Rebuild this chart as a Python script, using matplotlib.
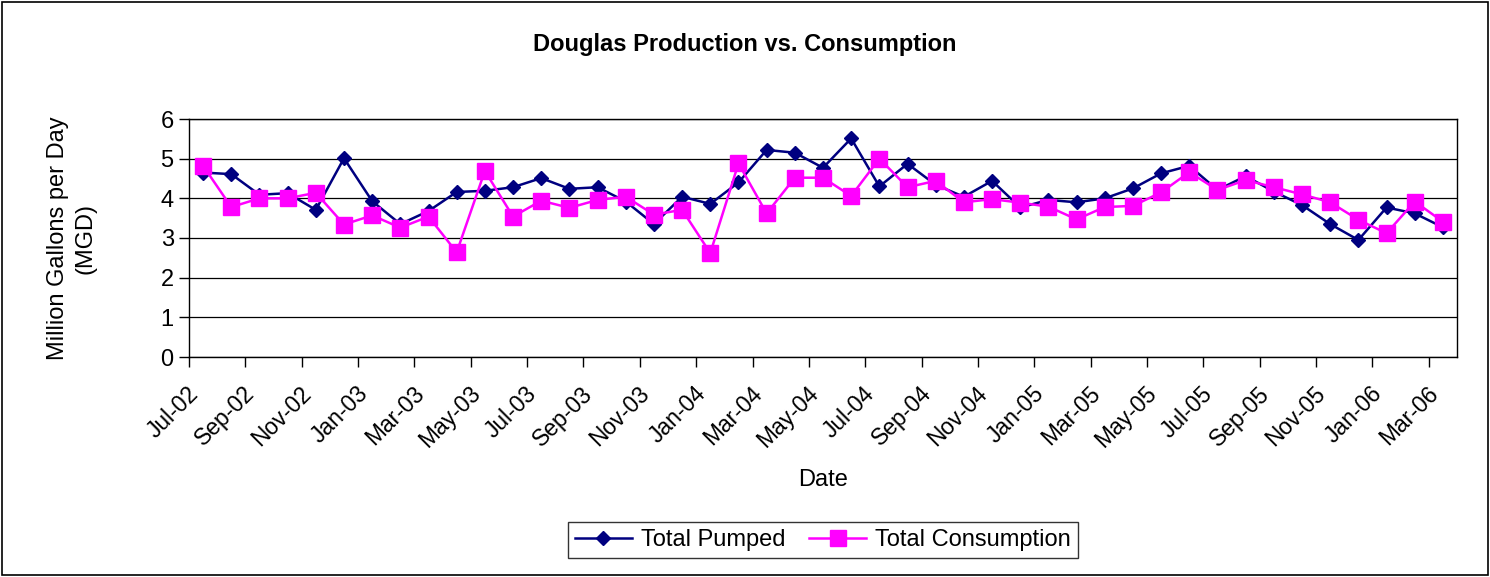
import matplotlib
matplotlib.use("Agg")
import matplotlib.pyplot as plt
from matplotlib.patches import Rectangle

plt.rcParams['font.family'] = ['Liberation Sans', 'DejaVu Sans']

months = ["Jul-02","Aug-02","Sep-02","Oct-02","Nov-02","Dec-02",
          "Jan-03","Feb-03","Mar-03","Apr-03","May-03","Jun-03",
          "Jul-03","Aug-03","Sep-03","Oct-03","Nov-03","Dec-03",
          "Jan-04","Feb-04","Mar-04","Apr-04","May-04","Jun-04",
          "Jul-04","Aug-04","Sep-04","Oct-04","Nov-04","Dec-04",
          "Jan-05","Feb-05","Mar-05","Apr-05","May-05","Jun-05",
          "Jul-05","Aug-05","Sep-05","Oct-05","Nov-05","Dec-05",
          "Jan-06","Feb-06","Mar-06"]

total_pumped = [4.65, 4.61, 4.09, 4.13, 3.71, 5.01, 3.93, 3.35, 3.68, 4.16,
                4.19, 4.28, 4.51, 4.24, 4.28, 3.92, 3.35, 4.04, 3.86, 4.40,
                5.22, 5.15, 4.77, 5.51, 4.30, 4.87, 4.34, 4.04, 4.44, 3.77,
                3.96, 3.90, 4.00, 4.25, 4.63, 4.82, 4.21, 4.56, 4.17, 3.83,
                3.35, 2.95, 3.77, 3.62, 3.27]

total_consumption = [4.82, 3.78, 4.00, 4.00, 4.14, 3.34, 3.57, 3.26, 3.54, 2.64,
                     4.69, 3.54, 3.94, 3.76, 3.96, 4.04, 3.59, 3.71, 2.62, 4.88,
                     3.62, 4.52, 4.52, 4.06, 5.00, 4.28, 4.44, 3.90, 3.98, 3.89,
                     3.79, 3.47, 3.78, 3.81, 4.15, 4.66, 4.21, 4.46, 4.28, 4.10,
                     3.90, 3.46, 3.12, 3.92, 3.41]

y_ticks = [0, 1, 2, 3, 4, 5, 6]

W, H = 1490, 577
fig = plt.figure(figsize=(W / 100, H / 100), dpi=100)
ax = fig.add_axes([189 / W, 1 - 357 / H, (1457 - 189) / W, (357 - 119) / H])

x = list(range(len(months)))
ax.plot(x, total_pumped, color='#000080', lw=1.8, marker='D', ms=7,
        markeredgecolor='#000080', markerfacecolor='#000080', label='Total Pumped', zorder=3)
ax.plot(x, total_consumption, color='#FF00FF', lw=1.8, marker='s', ms=11,
        markeredgecolor='#FF00FF', markerfacecolor='#FF00FF', label='Total Consumption', zorder=4)

ax.set_xlim(-0.5, len(months) - 0.5)
ax.set_ylim(0, 6)
ax.set_yticks(y_ticks)
ax.yaxis.grid(True, color='black', lw=0.9)
ax.set_axisbelow(True)

# tick marks at category boundaries every 2 months, labels at category centers
ax.set_xticks([i - 0.5 for i in range(0, len(months), 2)])
ax.set_xticklabels([])
ax.set_xticks(x[::2], minor=True)
ax.set_xticklabels(months[::2], minor=True, rotation=45, ha='right', va='top',
                   fontsize=16.5)
ax.tick_params(axis='x', which='minor', length=0, pad=18)
ax.tick_params(axis='x', which='major', length=7, width=1, direction='out')
ax.tick_params(axis='y', length=7, width=1, direction='out', labelsize=17, pad=4)

for s in ax.spines.values():
    s.set_color('black')
    s.set_linewidth(1.0)

fig.text(823 / W, 1 - 480 / H, 'Date', ha='center', va='center', fontsize=17)
fig.text(72 / W, 1 - 238 / H, 'Million Gallons per Day\n(MGD)', rotation=90,
         ha='center', va='center', fontsize=17, multialignment='center',
         linespacing=1.35)
fig.text(745 / W, 1 - 45 / H, 'Douglas Production vs. Consumption',
         ha='center', va='center', fontsize=17, fontweight='bold')

leg = fig.legend(loc='center', bbox_to_anchor=(823 / W, 1 - 540 / H), ncol=2,
                 fontsize=17, frameon=True, fancybox=False, edgecolor='black',
                 handlelength=2.4, columnspacing=1.0, handletextpad=0.4,
                 borderpad=0.3, borderaxespad=0)
leg.get_frame().set_linewidth(1.0)

fig.patches.append(Rectangle((2 / W, 2 / H), 1 - 4 / W, 1 - 4 / H,
                             transform=fig.transFigure, fill=False,
                             edgecolor='black', lw=1.2))

fig.savefig('out.png', dpi=100)
